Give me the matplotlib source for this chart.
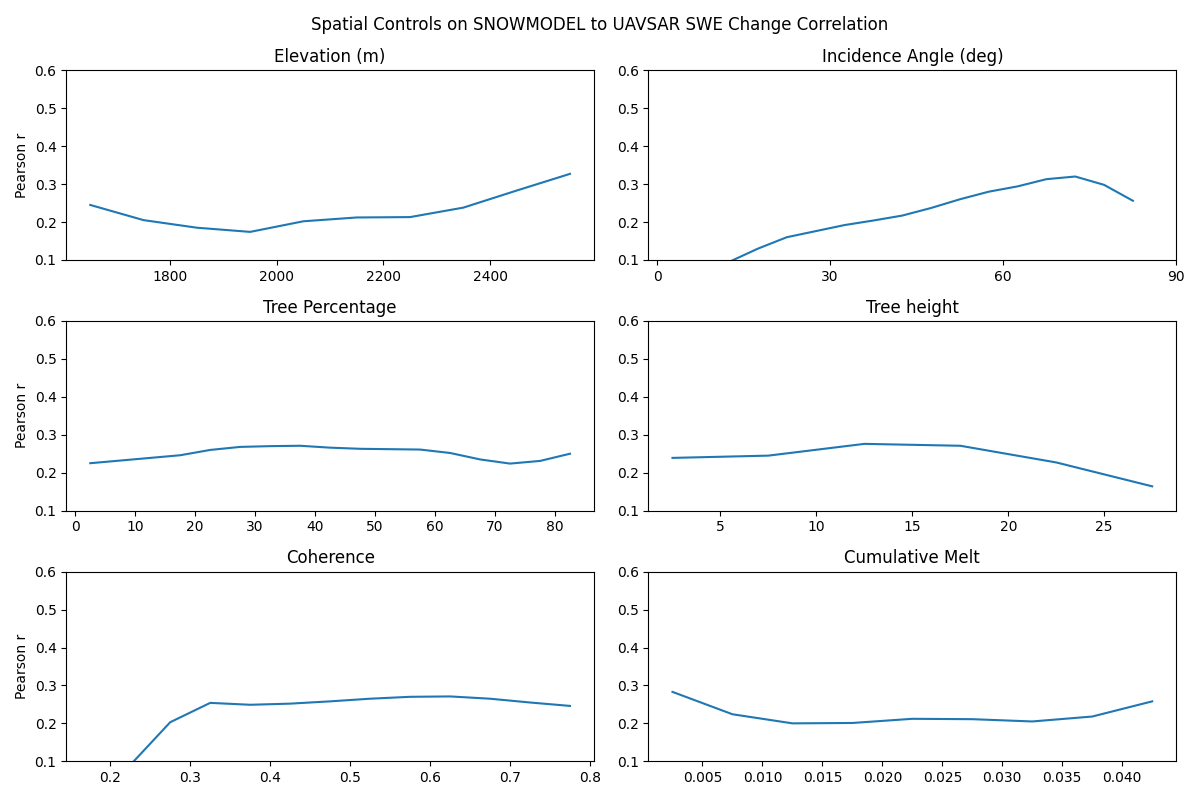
import numpy as np
import matplotlib
matplotlib.use("Agg")
import matplotlib.pyplot as plt

elev_x = [1650, 1750, 1850, 1950, 2050, 2150, 2250, 2350, 2450, 2550]
elev_r = [0.245, 0.205, 0.185, 0.174, 0.202, 0.212, 0.213, 0.238, 0.283, 0.327]

inc_x = [2.5, 7.5, 12.5, 17.5, 22.5, 27.5, 32.5, 37.5, 42.5, 47.5, 52.5, 57.5, 62.5, 67.5, 72.5, 77.5, 82.5]
inc_r = [0.0, 0.05, 0.095, 0.13, 0.16, 0.176, 0.192, 0.204, 0.217, 0.237, 0.26, 0.28, 0.294, 0.313, 0.32, 0.298, 0.256]

tree_x = [2.5, 7.5, 12.5, 17.5, 22.5, 27.5, 32.5, 37.5, 42.5, 47.5, 52.5, 57.5, 62.5, 67.5, 72.5, 77.5, 82.5]
tree_r = [0.225, 0.232, 0.239, 0.246, 0.26, 0.268, 0.27, 0.271, 0.266, 0.263, 0.262, 0.261, 0.252, 0.235, 0.224, 0.231, 0.25]

th_x = [2.5, 7.5, 12.5, 17.5, 22.5, 27.5]
th_r = [0.239, 0.245, 0.276, 0.271, 0.227, 0.164]

coh_x = [0.175, 0.225, 0.275, 0.325, 0.375, 0.425, 0.475, 0.525, 0.575, 0.625, 0.675, 0.725, 0.775]
coh_r = [0.03, 0.09, 0.203, 0.254, 0.249, 0.252, 0.258, 0.265, 0.27, 0.271, 0.265, 0.255, 0.246]

melt_x = [0.0025, 0.0075, 0.0125, 0.0175, 0.0225, 0.0275, 0.0325, 0.0375, 0.0425]
melt_r = [0.283, 0.224, 0.2, 0.201, 0.212, 0.211, 0.205, 0.218, 0.258]

panels = [
    ("Elevation (m)", elev_x, elev_r),
    ("Incidence Angle (deg)", inc_x, inc_r),
    ("Tree Percentage", tree_x, tree_r),
    ("Tree height", th_x, th_r),
    ("Coherence", coh_x, coh_r),
    ("Cumulative Melt", melt_x, melt_r),
]

fig, axes = plt.subplots(3, 2, figsize=(12, 8))
axes = axes.flatten()
for i, (title, x, r) in enumerate(panels):
    ax = axes[i]
    ax.plot(x, r)
    ax.set_title(title)
    ax.set_ylim(0.1, 0.6)
    if i % 2 == 0:
        ax.set_ylabel("Pearson r")

axes[0].set_xticks([1800, 2000, 2200, 2400])
axes[1].set_xlim(-1.5, 90)
axes[1].set_xticks([0, 30, 60, 90])

fig.suptitle("Spatial Controls on SNOWMODEL to UAVSAR SWE Change Correlation")
plt.tight_layout()
fig.savefig("out.png", dpi=100)
